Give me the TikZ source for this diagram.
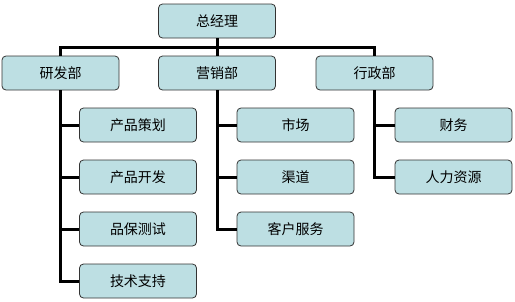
\documentclass[tikz,border=0pt]{standalone}
\usepackage{fontspec}
\newfontfamily\cjk{Noto Sans CJK SC}
\begin{document}
\begin{tikzpicture}[x=1pt, y=-1pt,
    box/.style={draw=black!80, line width=0.8pt, rounded corners=4pt, fill=boxfill,
                minimum width=117pt, minimum height=34pt, inner sep=0pt, font=\cjk\fontsize{14}{16}\selectfont},
    link/.style={line width=3pt}]
        \definecolor{boxfill}{RGB}{189,223,227}
        \useasboundingbox (0,0) rectangle (515,301);
        % top
        \node[box] (gm) at (217, 21) {总经理};
        % departments
        \node[box] (rd) at (60.5, 73) {研发部};
        \node[box] (sales) at (217, 73) {营销部};
        \node[box] (admin) at (374.5, 73) {行政部};
        % research
        \node[box] (plan) at (138, 125) {产品策划};
        \node[box] (dev) at (138, 177) {产品开发};
        \node[box] (test) at (138, 229) {品保测试};
        \node[box] (support) at (138, 281) {技术支持};
        % sales
        \node[box] (market) at (295.5, 125) {市场};
        \node[box] (channel) at (295.5, 177) {渠道};
        \node[box] (service) at (295.5, 229) {客户服务};
        % admin
        \node[box] (finance) at (453.5, 125) {财务};
        \node[box] (hr) at (453.5, 177) {人力资源};
        \draw[link] (gm.south) -- ++(0,9) -| (rd.north);
        \draw[link] (gm.south) -- ++(0,9) -| (admin.north);
        \draw[link] (gm.south) -- (sales.north);
        \draw[link] (rd.south) |- (plan.west);
        \draw[link] (rd.south) |- (dev.west);
        \draw[link] (rd.south) |- (test.west);
        \draw[link] (rd.south) |- (support.west);
        \draw[link] (sales.south) |- (market.west);
        \draw[link] (sales.south) |- (channel.west);
        \draw[link] (sales.south) |- (service.west);
        \draw[link] (admin.south) |- (finance.west);
        \draw[link] (admin.south) |- (hr.west);
    \end{tikzpicture}
\end{document}
